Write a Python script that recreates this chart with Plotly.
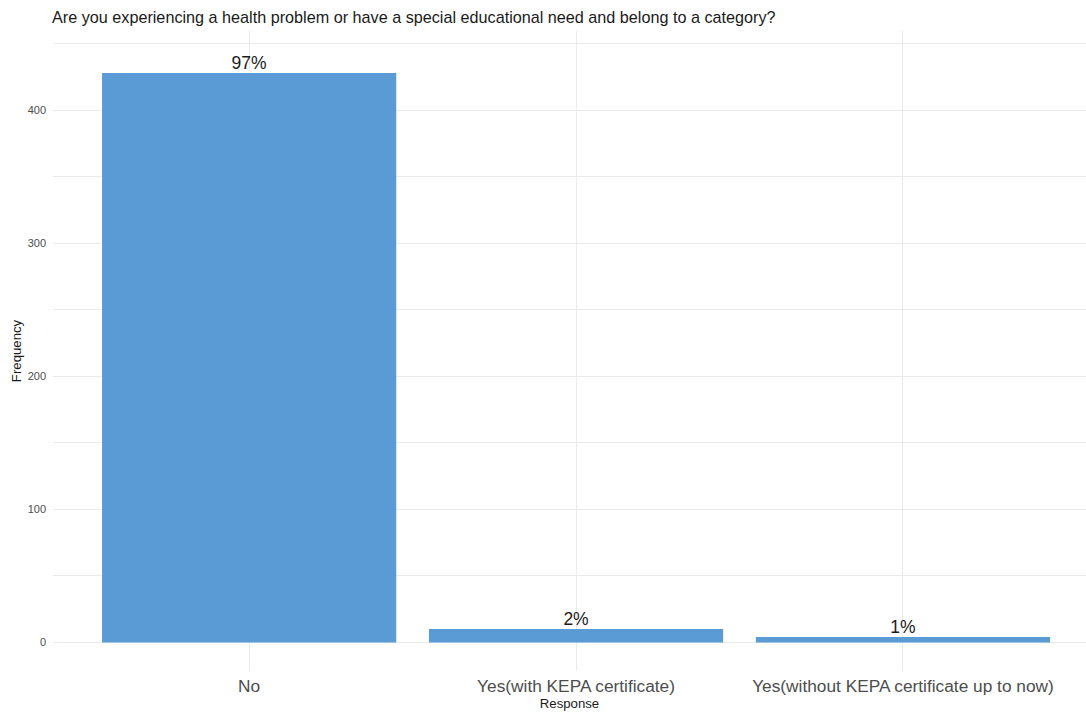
import plotly.graph_objects as go

categories = ["No", "Yes(with KEPA certificate)", "Yes(without KEPA certificate up to now)"]
counts = [428, 10, 4]
pct_labels = ["97%", "2%", "1%"]
y_ticks = [0, 100, 200, 300, 400]

FONT = "Liberation Sans, Arial, sans-serif"
BAR = "#5B9BD5"
GRID = "#EBEBEB"

fig = go.Figure()
fig.add_trace(go.Bar(
    x=categories, y=counts, width=0.9,
    marker=dict(color=BAR, line=dict(width=0)),
    hoverinfo="x+y", showlegend=False,
))
fig.add_trace(go.Scatter(
    x=categories, y=counts, mode="text", text=pct_labels,
    textposition="top center",
    textfont=dict(family=FONT, size=17.5, color="#1a1a1a"),
    showlegend=False, hoverinfo="skip", cliponaxis=False,
))

fig.update_layout(
    width=1086, height=713,
    margin=dict(l=53, r=0, t=31, b=42),
    paper_bgcolor="white", plot_bgcolor="white",
    font=dict(family=FONT, color="#1a1a1a"),
    title=dict(
        text="Are you experiencing a health problem or have a special educational need and belong to a category?",
        x=52 / 1086, xanchor="left", y=1 - 17 / 713, yanchor="middle",
        font=dict(family=FONT, size=16.2, color="#1a1a1a"),
    ),
    bargap=0.1,
)
fig.update_xaxes(
    type="category", range=[-0.6, 2.56], automargin=False,
    showgrid=True, gridcolor=GRID, gridwidth=1,
    showline=False, zeroline=False, ticks="",
    tickfont=dict(family=FONT, size=17.3, color="#4D4D4D"),
    ticklabelstandoff=3,
    title=dict(text="Response", font=dict(family=FONT, size=13.2, color="#1a1a1a"), standoff=0),
)
fig.update_yaxes(
    range=[-21.5, 459.5], automargin=False,
    tickvals=y_ticks, ticktext=[str(v) for v in y_ticks],
    showgrid=True, gridcolor=GRID, gridwidth=1,
    minor=dict(dtick=50, tick0=0, showgrid=True, gridcolor=GRID, gridwidth=1),
    showline=False, zeroline=False, ticks="",
    tickfont=dict(family=FONT, size=11, color="#4D4D4D"),
    ticklabelstandoff=6,
    title=dict(text="Frequency", font=dict(family=FONT, size=13.2, color="#1a1a1a"), standoff=3),
)

fig.write_html(
    "out.html",
    config={"displayModeBar": False},
    post_script="document.body.style.margin='0';",
)
